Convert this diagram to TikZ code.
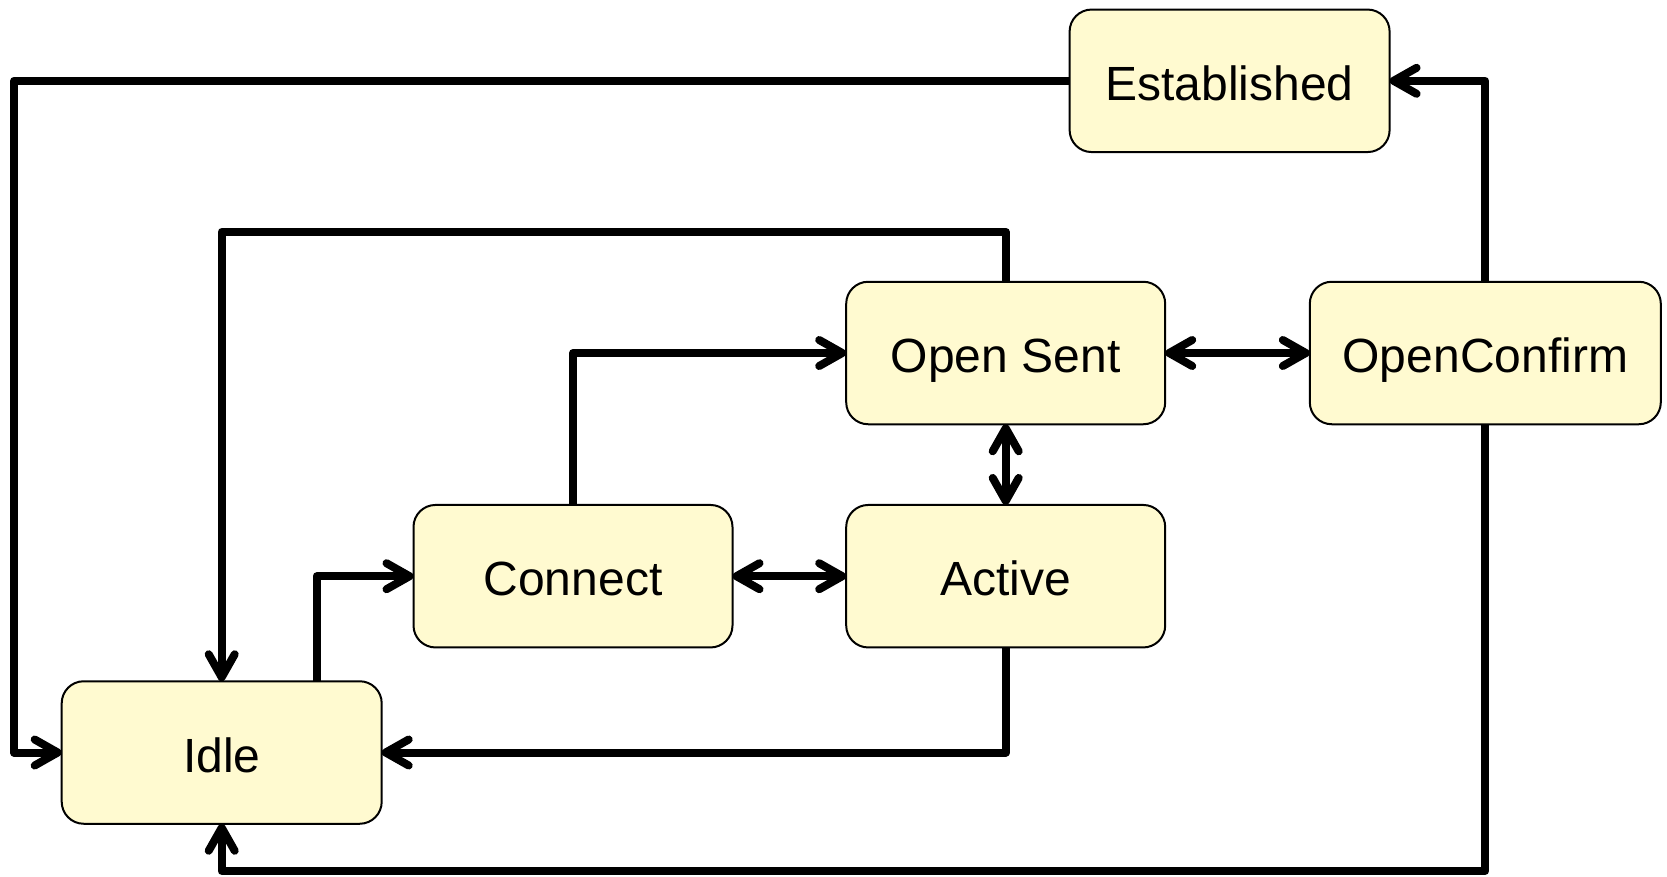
\documentclass[tikz,border=0pt]{standalone}
\usepackage{fontspec}
\setmainfont{Liberation Sans}
\usetikzlibrary{arrows.meta}
\definecolor{boxfill}{RGB}{255,250,208}
\tikzset{
  state/.style={draw=black, line width=2pt, fill=boxfill, rounded corners=22pt,
    minimum height=142.5pt, inner sep=0pt, outer sep=0pt,
    text height=39pt, text depth=0pt,
    font=\fontsize{48}{58}\selectfont},
  conn/.style={line width=8pt, line join=round, draw=black,
    arrows={-Straight Barb[length=23pt, width=26pt, round]}},
  dconn/.style={line width=8pt, line join=round, draw=black,
    arrows={Straight Barb[length=23pt, width=26pt, round]-Straight Barb[length=23pt, width=26pt, round]}}
}
\begin{document}
\begin{tikzpicture}[x=1pt,y=-1pt]
\useasboundingbox (0,0) rectangle (1667,876);
\node[state, minimum width=320pt] (est) at (1229.6,80.8) {Established};
\node[state, minimum width=319pt] (os) at (1005.7,353) {Open Sent};
\node[state, minimum width=351pt] (oc) at (1485.3,353) {OpenConfirm};
\node[state, minimum width=319pt] (con) at (573,576.2) {Connect};
\node[state, minimum width=319pt] (act) at (1005.7,576.2) {Active};
\node[state, minimum width=320pt] (idle) at (221.7,752.5) {Idle};
\coordinate (L) at (14,0);
\coordinate (T) at (0,231.8);
\coordinate (B) at (0,871);
% Established -> Idle
\draw[conn] (est.west) -- (L |- est.west) -- (L |- idle.west) -- (idle.west);
% Open Sent -> Idle
\draw[conn] (os.north) -- (os.north |- T) -| (idle.north);
% Idle -> Connect
\draw[conn] ([xshift=95.1pt]idle.north) |- (con.west);
% Connect -> Open Sent
\draw[conn] (con.north) |- (os.west);
% Connect <-> Active
\draw[dconn] (con.east) -- (act.west);
% Open Sent <-> Active
\draw[dconn] (os.south) -- (act.north);
% Open Sent <-> OpenConfirm
\draw[dconn] (os.east) -- (oc.west);
% OpenConfirm -> Established
\draw[conn] (oc.north) |- (est.east);
% OpenConfirm -> Idle
\draw[conn] (oc.south) -- (oc.south |- B) -| (idle.south);
% Active -> Idle
\draw[conn] (act.south) |- (idle.east);
\end{tikzpicture}
\end{document}
